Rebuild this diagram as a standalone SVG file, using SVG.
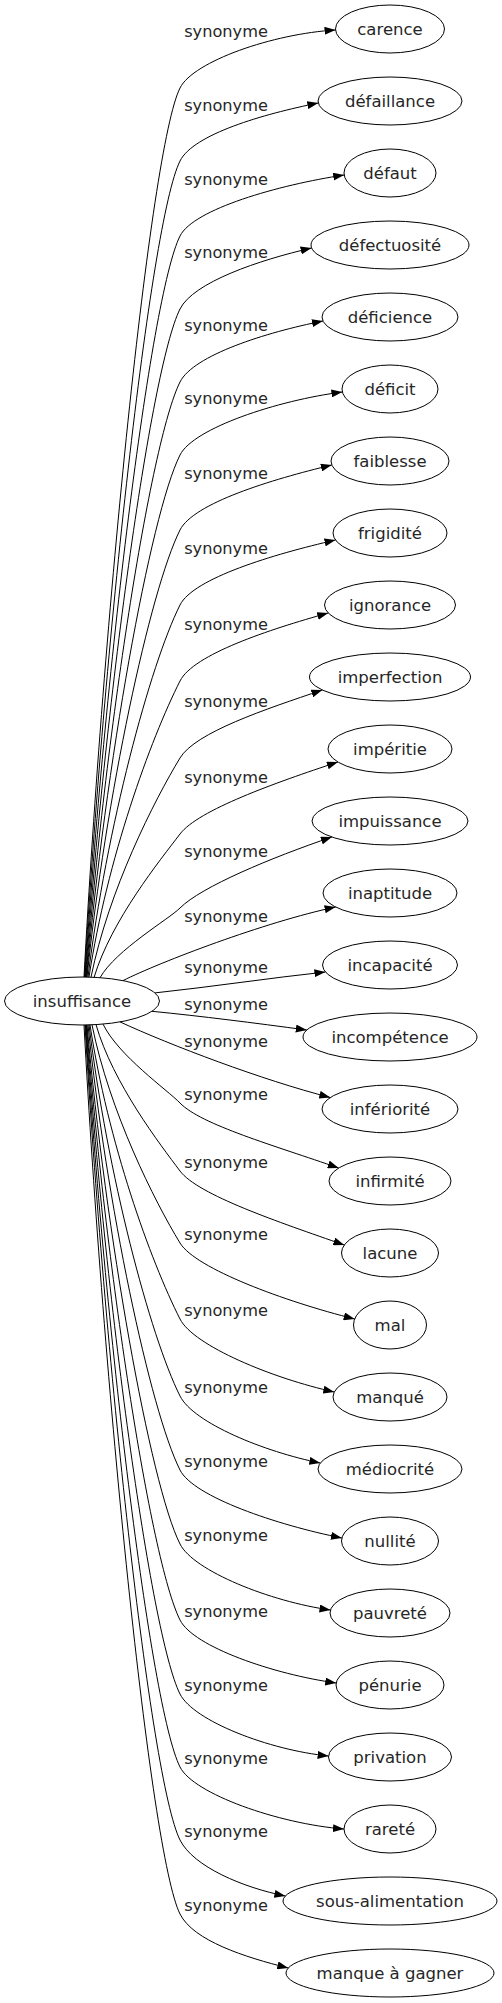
<svg xmlns="http://www.w3.org/2000/svg" width="502" height="2003" viewBox="0 0 502 2003">
<defs>
<marker id="arrow" markerUnits="userSpaceOnUse" markerWidth="11" markerHeight="8" refX="11" refY="4" orient="auto"><path d="M0,0 L11,4 L0,8 z" fill="#000"/></marker>
</defs>
<style>
.node ellipse{fill:none;stroke:#000;stroke-width:1}
.node text{font-family:"DejaVu Sans",sans-serif;font-size:16.5px;fill:#262626;text-anchor:middle}
.edge{fill:none;stroke:#000;stroke-width:1;marker-end:url(#arrow)}
.lbl{font-family:"DejaVu Sans",sans-serif;font-size:16.2px;fill:#262626;text-anchor:middle}
</style>
<rect width="502" height="2003" fill="#fff"/>
<g id="connectors">
<path class="edge" d="M84,977 C103.2,621.4 150,148 180,88 C193.4,61.2 273.3,33.7 335.5,30"/>
<path class="edge" d="M84.5,977 C103.6,650.6 150,221 180,161 C193.4,134.2 263,114.1 318.3,103"/>
<path class="edge" d="M85,977 C104,680.6 150,296 180,236 C193.4,209.2 278.5,184.9 344.2,175"/>
<path class="edge" d="M85.5,977 C104.4,709.8 150,369 180,309 C193.4,282.2 259,260.1 311.6,248"/>
<path class="edge" d="M86,977 C104.8,739 150,442 180,382 C193.4,355.2 265.8,332.4 323,321"/>
<path class="edge" d="M86.5,977 C105.2,768.2 150,515 180,455 C193.4,428.2 277.4,400.4 342.4,392"/>
<path class="edge" d="M87,977 C105.6,798.2 150,590 180,530 C193.4,503.2 271.1,479.6 331.8,465"/>
<path class="edge" d="M88,977 C106.4,828.2 150,665 180,605 C193.4,578.2 273.3,554.3 335.5,540"/>
<path class="edge" d="M89,977 C107.2,858.6 150.3,739.9 180,681 C193.5,654.3 268.9,629.6 328.2,613"/>
<path class="edge" d="M91,977.2 C108.8,889.5 154.6,799.9 180,758 C195.5,732.3 265.4,709.3 322.3,690"/>
<path class="edge" d="M94,977.6 C111.2,920.2 160.6,859.6 180,834 C198.1,810.1 274.7,782.9 337.9,762"/>
<path class="edge" d="M100,977.7 C116,949.8 169.1,919 180,908 C201.2,886.8 271.1,857.7 331.9,837"/>
<path class="edge" d="M123,980.6 C160,962 265,922 335.6,907"/>
<path class="edge" d="M155,992.9 C210,987 270,978 325.4,972"/>
<path class="edge" d="M152,1011.3 C200,1016 255,1023 306.8,1030"/>
<path class="edge" d="M120,1021.9 C170,1045 262,1080 330.3,1097.5"/>
<path class="edge" d="M103,1024.1 C118.4,1055.7 167.8,1090.3 180,1103 C200.8,1124.7 275.2,1145.8 338.7,1168"/>
<path class="edge" d="M96,1024.6 C112.8,1083.2 160.4,1144.8 180,1171 C198,1195 278.6,1222 344.3,1245"/>
<path class="edge" d="M92,1024.8 C109.6,1112.1 154.7,1201.4 180,1243 C195.6,1268.6 284.8,1301.5 354.7,1319"/>
<path class="edge" d="M90,1024.9 C108,1142.5 150.3,1260.4 180,1319 C193.6,1345.8 272.6,1378.4 334.3,1392"/>
<path class="edge" d="M89,1024.9 C107.2,1173.3 150,1336 180,1396 C193.4,1422.8 264.2,1451.8 320.3,1463"/>
<path class="edge" d="M88,1025 C106.4,1203 150,1410 180,1470 C193.4,1496.8 277.1,1525 341.9,1538"/>
<path class="edge" d="M87,1025 C105.6,1232.6 150,1484 180,1544 C193.4,1570.8 270.3,1601.6 330.5,1610"/>
<path class="edge" d="M86.5,1025 C105.2,1263 150,1560 180,1620 C193.4,1646.8 273.7,1674.3 336.2,1683"/>
<path class="edge" d="M86,1025 C104.8,1292.6 150,1634 180,1694 C193.4,1720.8 269.1,1750.1 328.6,1756"/>
<path class="edge" d="M85.5,1025 C104.4,1321.8 150,1707 180,1767 C193.4,1793.8 278.4,1823.8 344,1829"/>
<path class="edge" d="M85,1025 C104,1351 150,1780 180,1840 C193.4,1866.8 243.2,1887.6 285.4,1896"/>
<path class="edge" d="M84,1025 C103.2,1380.6 150,1854 180,1914 C193.4,1940.8 245,1957.2 288.3,1968"/>
</g>
<g id="edge-labels">
<text class="lbl" x="226" y="37">synonyme</text>
<text class="lbl" x="226" y="111">synonyme</text>
<text class="lbl" x="226" y="185">synonyme</text>
<text class="lbl" x="226" y="258">synonyme</text>
<text class="lbl" x="226" y="331">synonyme</text>
<text class="lbl" x="226" y="404">synonyme</text>
<text class="lbl" x="226" y="479">synonyme</text>
<text class="lbl" x="226" y="554">synonyme</text>
<text class="lbl" x="226" y="630">synonyme</text>
<text class="lbl" x="226" y="707">synonyme</text>
<text class="lbl" x="226" y="783">synonyme</text>
<text class="lbl" x="226" y="857">synonyme</text>
<text class="lbl" x="226" y="922">synonyme</text>
<text class="lbl" x="226" y="973">synonyme</text>
<text class="lbl" x="226" y="1010">synonyme</text>
<text class="lbl" x="226" y="1047">synonyme</text>
<text class="lbl" x="226" y="1100">synonyme</text>
<text class="lbl" x="226" y="1168">synonyme</text>
<text class="lbl" x="226" y="1240">synonyme</text>
<text class="lbl" x="226" y="1316">synonyme</text>
<text class="lbl" x="226" y="1393">synonyme</text>
<text class="lbl" x="226" y="1467">synonyme</text>
<text class="lbl" x="226" y="1541">synonyme</text>
<text class="lbl" x="226" y="1617">synonyme</text>
<text class="lbl" x="226" y="1691">synonyme</text>
<text class="lbl" x="226" y="1764">synonyme</text>
<text class="lbl" x="226" y="1837">synonyme</text>
<text class="lbl" x="226" y="1911">synonyme</text>
</g>
<g id="node-insuffisance" class="node"><ellipse cx="82" cy="1001" rx="77.5" ry="24"/><text x="82" y="1006.5">insuffisance</text></g>
<g id="node-carence" class="node"><ellipse cx="390" cy="29" rx="54.5" ry="24"/><text x="390" y="34.5">carence</text></g>
<g id="node-defaillance" class="node"><ellipse cx="390" cy="101" rx="72" ry="24"/><text x="390" y="106.5">défaillance</text></g>
<g id="node-defaut" class="node"><ellipse cx="390" cy="173" rx="46" ry="24"/><text x="390" y="178.5">défaut</text></g>
<g id="node-defectuosite" class="node"><ellipse cx="390" cy="245" rx="79" ry="24"/><text x="390" y="250.5">défectuosité</text></g>
<g id="node-deficience" class="node"><ellipse cx="390" cy="317" rx="68" ry="24"/><text x="390" y="322.5">déficience</text></g>
<g id="node-deficit" class="node"><ellipse cx="390" cy="389" rx="48" ry="24"/><text x="390" y="394.5">déficit</text></g>
<g id="node-faiblesse" class="node"><ellipse cx="390" cy="461" rx="59" ry="24"/><text x="390" y="466.5">faiblesse</text></g>
<g id="node-frigidite" class="node"><ellipse cx="390" cy="533" rx="57" ry="24"/><text x="390" y="538.5">frigidité</text></g>
<g id="node-ignorance" class="node"><ellipse cx="390" cy="605" rx="65.5" ry="24"/><text x="390" y="610.5">ignorance</text></g>
<g id="node-imperfection" class="node"><ellipse cx="390" cy="677" rx="80.5" ry="24"/><text x="390" y="682.5">imperfection</text></g>
<g id="node-imperitie" class="node"><ellipse cx="390" cy="749" rx="62" ry="24"/><text x="390" y="754.5">impéritie</text></g>
<g id="node-impuissance" class="node"><ellipse cx="390" cy="821" rx="78" ry="24"/><text x="390" y="826.5">impuissance</text></g>
<g id="node-inaptitude" class="node"><ellipse cx="390" cy="893" rx="67" ry="24"/><text x="390" y="898.5">inaptitude</text></g>
<g id="node-incapacite" class="node"><ellipse cx="390" cy="965" rx="67.5" ry="24"/><text x="390" y="970.5">incapacité</text></g>
<g id="node-incompetence" class="node"><ellipse cx="390" cy="1037" rx="87" ry="24"/><text x="390" y="1042.5">incompétence</text></g>
<g id="node-inferiorite" class="node"><ellipse cx="390" cy="1109" rx="68" ry="24"/><text x="390" y="1114.5">infériorité</text></g>
<g id="node-infirmite" class="node"><ellipse cx="390" cy="1181" rx="61" ry="24"/><text x="390" y="1186.5">infirmité</text></g>
<g id="node-lacune" class="node"><ellipse cx="390" cy="1253" rx="48.5" ry="24"/><text x="390" y="1258.5">lacune</text></g>
<g id="node-mal" class="node"><ellipse cx="390" cy="1325" rx="36.5" ry="24"/><text x="390" y="1330.5">mal</text></g>
<g id="node-manque" class="node"><ellipse cx="390" cy="1397" rx="57" ry="24"/><text x="390" y="1402.5">manqué</text></g>
<g id="node-mediocrite" class="node"><ellipse cx="390" cy="1469" rx="72" ry="24"/><text x="390" y="1474.5">médiocrité</text></g>
<g id="node-nullite" class="node"><ellipse cx="390" cy="1541" rx="48.5" ry="24"/><text x="390" y="1546.5">nullité</text></g>
<g id="node-pauvrete" class="node"><ellipse cx="390" cy="1613" rx="60" ry="24"/><text x="390" y="1618.5">pauvreté</text></g>
<g id="node-penurie" class="node"><ellipse cx="390" cy="1685" rx="54" ry="24"/><text x="390" y="1690.5">pénurie</text></g>
<g id="node-privation" class="node"><ellipse cx="390" cy="1757" rx="61.5" ry="24"/><text x="390" y="1762.5">privation</text></g>
<g id="node-rarete" class="node"><ellipse cx="390" cy="1829" rx="46" ry="24"/><text x="390" y="1834.5">rareté</text></g>
<g id="node-sous-alimentation" class="node"><ellipse cx="390" cy="1901" rx="107" ry="24"/><text x="390" y="1906.5">sous-alimentation</text></g>
<g id="node-manque-a-gagner" class="node"><ellipse cx="390" cy="1973" rx="104" ry="24"/><text x="390" y="1978.5">manque à gagner</text></g>
</svg>
